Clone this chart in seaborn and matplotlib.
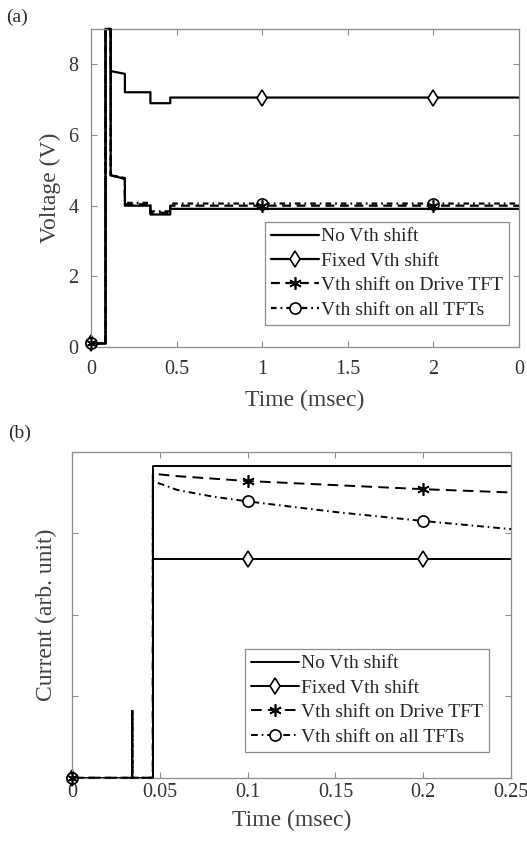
import numpy as np
import pandas as pd
import seaborn as sns
import matplotlib.pyplot as plt

# ---- panel (a): voltage vs time ----
t_a = [0, 0.085, 0.085, 0.115, 0.115, 0.198, 0.198, 0.347, 0.347, 0.463, 0.463, 1.0, 2.0, 2.5]
v_none = [0.1, 0.1, 9, 9, 4.86, 4.76, 4.00, 4.00, 3.75, 3.75, 3.91, 3.91, 3.91, 3.91]
v_fixed = [0.1, 0.1, 9, 9, 7.81, 7.73, 7.21, 7.21, 6.90, 6.90, 7.06, 7.06, 7.06, 7.06]
v_drive = [0.1, 0.1, 9, 9, 4.86, 4.76, 4.04, 4.04, 3.80, 3.80, 4.00, 4.00, 4.00, 4.00]
v_all = [0.1, 0.1, 9, 9, 4.88, 4.78, 4.08, 4.08, 3.84, 3.84, 4.06, 4.06, 4.06, 4.06]
xticks_a = [0, 0.5, 1, 1.5, 2, 2.5]
xticklabels_a = ['0', '0.5', '1', '1.5', '2', '0']
yticks_a = [0, 2, 4, 6, 8]

# ---- panel (b): current vs time ----
t_b = [0, 0.0344, 0.0344, 0.0344, 0.046, 0.046, 0.1, 0.2, 0.25]
i_none = [0, 0, 0.82, 0, 0, 3.83, 3.83, 3.83, 3.83]
i_fixed = [0, 0, 0.82, 0, 0, 2.68, 2.68, 2.68, 2.68]
t_b_curve = [0, 0.0344, 0.0344, 0.0344, 0.046, 0.046, 0.06, 0.08, 0.1, 0.15, 0.2, 0.25]
i_drive = [0, 0, 0.82, 0, 0, 3.73, 3.70, 3.67, 3.64, 3.59, 3.54, 3.50]
i_all = [0, 0, 0.82, 0, 0, 3.64, 3.53, 3.45, 3.39, 3.26, 3.15, 3.05]
xticks_b = [0, 0.05, 0.1, 0.15, 0.2, 0.25]
xticklabels_b = ['0', '0.05', '0.1', '0.15', '0.2', '0.25']
yticks_b = [0, 1, 2, 3, 4]

labels = ['No Vth shift', 'Fixed Vth shift', 'Vth shift on Drive TFT', 'Vth shift on all TFTs']

sns.set_style('ticks')
plt.rcParams['font.family'] = ['Liberation Serif', 'DejaVu Serif']

grey = '#8c8c8c'
tick_col = '#333333'


def mark_idx(t, where):
    t = np.asarray(t)
    return [int(np.where(np.isclose(t, w))[0][0]) for w in where]


def draw(ax, series, mark_at, lw, dash, dashdot):
    styles = [
        dict(linestyle='-', marker=None, z=2),
        dict(linestyle='-', marker='d', markersize=8, z=2),
        dict(linestyle=(0, dash), marker=(6, 2, 0), markersize=9, z=4),
        dict(linestyle=(0, dashdot), marker='o', markersize=8, z=3),
    ]
    for (t, y), lab, st in zip(series, labels, styles):
        df = pd.DataFrame({'t': t, 'y': y})
        kw = dict(color='black', linewidth=lw, linestyle=st['linestyle'],
                  clip_on=False, zorder=st['z'])
        if st['marker'] is not None:
            kw.update(marker=st['marker'], markersize=st['markersize'],
                      markerfacecolor='white', markeredgecolor='black',
                      markeredgewidth=1.2, markevery=mark_idx(t, mark_at))
        sns.lineplot(data=df, x='t', y='y', ax=ax, estimator=None, sort=False,
                     label=lab, **kw)


def style_axes(ax, pad):
    for s in ax.spines.values():
        s.set_visible(True)
        s.set_color(grey)
        s.set_linewidth(0.9)
    ax.tick_params(direction='in', top=True, right=True, length=4, width=0.8,
                   color=grey, labelcolor=tick_col, labelsize=14.5, pad=pad)


def add_legend(ax, x, y):
    leg = ax.legend(loc='upper left', bbox_to_anchor=(x / W, 1 - y / H),
                    bbox_transform=fig.transFigure, borderaxespad=0, fontsize=14,
                    frameon=True, fancybox=False, edgecolor=grey, framealpha=1,
                    handlelength=2.5, handletextpad=0.1, labelspacing=0.35,
                    borderpad=0.3)
    leg.get_frame().set_linewidth(0.9)
    leg.set_zorder(10)


fig = plt.figure(figsize=(5.27, 8.49), dpi=100)
W, H = 527, 849

# panel (a)
ax1 = fig.add_axes([91 / W, 1 - 347 / H, (519 - 91) / W, (347 - 29) / H])
draw(ax1, [(t_a, v_none), (t_a, v_fixed), (t_a, v_drive), (t_a, v_all)], [0, 1, 2], 1.6,
     (4, 2.5), (2.5, 1.8, 0.8, 1.8))
ax1.set_xlim(0, 2.5)
ax1.set_ylim(0, 9)
ax1.set_xticks(xticks_a)
ax1.set_xticklabels(xticklabels_a)
ax1.set_yticks(yticks_a)
style_axes(ax1, 9)
ax1.set_xlabel('Time (msec)', fontsize=17, color='#404040')
ax1.set_ylabel('Voltage (V)', fontsize=17, color='#404040')
ax1.xaxis.set_label_coords(0.5, -0.135)
ax1.yaxis.set_label_coords(-0.07, 0.5)
add_legend(ax1, 265, 222)

# panel (b)
ax2 = fig.add_axes([72 / W, 1 - 777.7 / H, (511 - 72) / W, (777.7 - 451.7) / H])
draw(ax2, [(t_b, i_none), (t_b, i_fixed), (t_b_curve, i_drive), (t_b_curve, i_all)],
     [0, 0.1, 0.2], 1.4, (5.5, 3.2), (3.5, 2, 0.8, 2))
ax2.set_xlim(0, 0.25)
ax2.set_ylim(0, 4)
ax2.set_xticks(xticks_b)
ax2.set_xticklabels(xticklabels_b)
ax2.set_yticks(yticks_b)
ax2.set_yticklabels([])
style_axes(ax2, 4)
ax2.set_xlabel('Time (msec)', fontsize=17, color='#404040')
ax2.set_ylabel('Current (arb. unit)', fontsize=17, color='#404040')
ax2.xaxis.set_label_coords(0.5, -0.1)
ax2.yaxis.set_label_coords(-0.035, 0.5)
add_legend(ax2, 245, 649)

fig.text(17 / W, 1 - 17 / H, '(a)', ha='center', va='center', fontsize=14)
fig.text(20 / W, 1 - 433 / H, '(b)', ha='center', va='center', fontsize=14)

fig.savefig('out.png', dpi=100)
